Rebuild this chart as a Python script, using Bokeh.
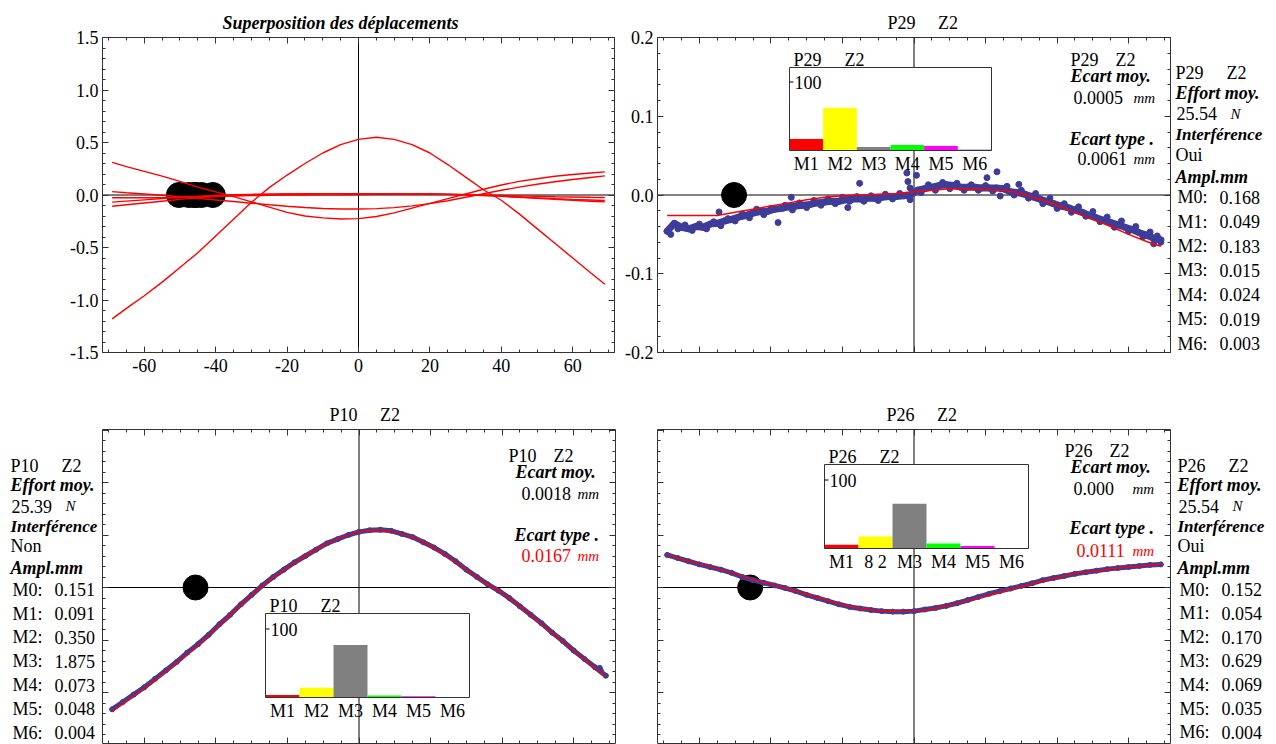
from bokeh.plotting import figure
from bokeh.models import (Range1d, LinearAxis, FixedTicker, NumeralTickFormatter,
                          CustomJSTickFormatter, Span, Label, ColumnDataSource)
from bokeh.layouts import column, row
from bokeh.embed import file_html
from bokeh.resources import INLINE
from bokeh.core.properties import value

FONT = "Liberation Serif"
BLUE = "#3d3d99"
RED = "#ff0000"
FRAME = "#333333"
NB = "\u00a0"

# ---------------- data ----------------
fit_x = [-69, -65, -60, -55, -50, -45, -40, -35, -30, -25, -20, -15, -10, -5, 0,
         5, 10, 15, 20, 25, 30, 35, 40, 45, 50, 55, 60, 65, 69]
p10_fit = [-1.18, -1.08, -0.96, -0.83, -0.69, -0.55, -0.39, -0.23, -0.07, 0.07, 0.19, 0.30,
           0.40, 0.48, 0.53, 0.55, 0.53, 0.48, 0.40, 0.29, 0.17, 0.05, -0.05, -0.18, -0.32,
           -0.46, -0.60, -0.74, -0.85]
p26_fit = [0.31, 0.27, 0.225, 0.18, 0.13, 0.075, 0.03, -0.015, -0.065, -0.115, -0.165, -0.20,
           -0.218, -0.228, -0.225, -0.205, -0.17, -0.125, -0.08, -0.035, 0.01, 0.055, 0.095,
           0.13, 0.155, 0.178, 0.195, 0.21, 0.22]
p29_fit = [-0.026, -0.026, -0.026, -0.026, -0.022, -0.018, -0.014, -0.010, -0.006, -0.003,
           -0.001, 0.000, 0.001, 0.002, 0.004, 0.006, 0.008, 0.008, 0.007, 0.006, 0.002,
           -0.005, -0.013, -0.022, -0.031, -0.040, -0.050, -0.059, -0.065]
c4_fit = [0.032, 0.022, 0.010, -0.003, -0.017, -0.032, -0.047, -0.062, -0.078, -0.093, -0.107,
          -0.119, -0.128, -0.133, -0.134, -0.130, -0.120, -0.104, -0.082, -0.055, -0.022,
          0.012, 0.045, 0.075, 0.102, 0.126, 0.148, 0.167, 0.182]
c5_fit = [-0.068, -0.058, -0.046, -0.034, -0.022, -0.012, -0.004, 0.002, 0.006, 0.008, 0.010,
          0.011, 0.012, 0.012, 0.012, 0.012, 0.011, 0.010, 0.009, 0.007, 0.004, 0.000, -0.004,
          -0.008, -0.012, -0.016, -0.019, -0.022, -0.024]
c6_fit = [-0.107, -0.093, -0.076, -0.059, -0.042, -0.027, -0.013, -0.003, 0.004, 0.008, 0.010,
          0.012, 0.013, 0.013, 0.013, 0.013, 0.012, 0.011, 0.009, 0.006, 0.002, -0.004, -0.011,
          -0.019, -0.027, -0.035, -0.042, -0.048, -0.053]

# zero markers (black dots) of the superposed curves
dots_all_x = [-50.3, -45.7, -45.8, -40.8, -44.0, -47.5]
dot_p29 = -50.3
dot_p10 = -45.7
dot_p26 = -45.8

# measured points
meas_x = [-69, -66, -63, -60, -57, -54, -51, -48, -45, -42, -39, -36, -33, -30, -27, -24, -21,
          -18, -15, -12, -9, -6, -3, 0, 3, 6, 9, 12, 15, 18, 21, 24, 27, 30, 33, 36, 39, 42, 45,
          48, 51, 54, 57, 60, 63, 66, 69]
p10_meas = [-1.16, -1.09, -1.02, -0.95, -0.87, -0.79, -0.71, -0.62, -0.54, -0.45, -0.35, -0.26,
            -0.16, -0.07, 0.02, 0.10, 0.17, 0.24, 0.30, 0.36, 0.42, 0.46, 0.50, 0.53, 0.545,
            0.55, 0.54, 0.51, 0.48, 0.43, 0.38, 0.32, 0.25, 0.17, 0.10, 0.03, -0.03, -0.10,
            -0.18, -0.26, -0.34, -0.43, -0.51, -0.60, -0.68, -0.76, -0.84]
p10_extra_x = [67.3, 67.6]
p10_extra_y = [-0.765, -0.79]
p26_meas = [0.31, 0.28, 0.25, 0.22, 0.195, 0.17, 0.14, 0.10, 0.07, 0.045, 0.02, -0.005, -0.035,
            -0.07, -0.10, -0.13, -0.16, -0.185, -0.20, -0.215, -0.225, -0.23, -0.23, -0.225,
            -0.21, -0.195, -0.175, -0.15, -0.12, -0.09, -0.06, -0.035, -0.01, 0.015, 0.04,
            0.07, 0.09, 0.11, 0.13, 0.145, 0.16, 0.175, 0.185, 0.195, 0.205, 0.215, 0.22]
p29_mx = [-69, -67, -65, -63, -61, -59, -57, -55, -53, -51, -49, -47, -45, -43, -41, -39, -37,
          -35, -33, -31, -29, -27, -25, -23, -21, -19, -17, -15, -13, -11, -9, -7, -5, -3, -1,
          1, 3, 5, 7, 9, 11, 13, 15, 17, 19, 21, 23, 25, 27, 29, 31, 33, 35, 37, 39, 41, 43,
          45, 47, 49, 51, 53, 55, 57, 59, 61, 63, 65, 67, 69]
p29_my = [-0.046, -0.036, -0.041, -0.043, -0.040, -0.041, -0.037, -0.036, -0.033, -0.031,
          -0.028, -0.026, -0.023, -0.021, -0.021, -0.018, -0.017, -0.015, -0.014, -0.013,
          -0.012, -0.010, -0.009, -0.008, -0.008, -0.006, -0.005, -0.005, -0.004, -0.004,
          -0.003, -0.002, -0.002, -0.001, 0.000, 0.006, 0.008, 0.010, 0.012, 0.013,
          0.012, 0.010, 0.010, 0.010, 0.009, 0.009, 0.009, 0.008, 0.004, 0.003,
          0.001, -0.002, -0.005, -0.008, -0.011, -0.014, -0.016, -0.019, -0.022, -0.026,
          -0.029, -0.032, -0.035, -0.038, -0.041, -0.044, -0.048, -0.051, -0.055, -0.057]
p29_nx = [-68, -66, -64, -62, -60, -58, -56, -54.5, -54, -52, -50, -48, -46, -44, -42, -40,
          -38, -36, -34.3, -34, -32, -30, -28, -26, -24, -22, -20, -18.5, -18, -16, -15.2, -14,
          -12, -10, -8, -6, -4, -2, -1.7, -1.1, -1.1, 0.7, 2, 4, 6, 8, 10, 12, 14, 16, 18, 20,
          20.4, 22, 23.2, 24.1, 26, 28, 29.3, 30, 32, 34, 36, 38, 40, 42, 44, 46, 48, 50, 52,
          54, 56, 58, 60, 62, 64, 66, 67, 68, 69]
p29_ny = [-0.050, -0.043, -0.038, -0.045, -0.037, -0.043, -0.034, -0.0215, -0.039, -0.030,
          -0.033, -0.024, -0.029, -0.018, -0.025, -0.017, -0.035, -0.013, -0.003, -0.019,
          -0.010, -0.016, -0.007, -0.013, -0.005, -0.011, -0.003, -0.016, -0.008, -0.002,
          0.0148, -0.008, -0.001, -0.007, 0.001, -0.005, 0.002, 0.028, 0.017, 0.009,
          -0.006, 0.025, 0.003, 0.013, 0.006, 0.016, 0.008, 0.015, 0.006, 0.013,
          0.006, 0.012, 0.022, 0.005, 0.0295, -0.0013, 0.011, 0.000, 0.0135, 0.006,
          -0.004, 0.002, -0.011, -0.004, -0.017, -0.011, -0.022, -0.015, -0.027, -0.021,
          -0.034, -0.028, -0.041, -0.033, -0.046, -0.040, -0.053, -0.047, -0.062, -0.052,
          -0.060]

# amplitudes M0..M6 (mm)
mode_names = ["M0", "M1", "M2", "M3", "M4", "M5", "M6"]
p29_ampl = [0.168, 0.049, 0.183, 0.015, 0.024, 0.019, 0.003]
p10_ampl = [0.151, 0.091, 0.350, 1.875, 0.073, 0.048, 0.004]
p26_ampl = [0.152, 0.054, 0.170, 0.629, 0.069, 0.035, 0.004]
bar_labels_p29 = ["M1", "M2", "M3", "M4", "M5", "M6"]
bar_labels_p10 = ["M1", "M2", "M3", "M4", "M5", "M6"]
bar_labels_p26 = ["M1", "8 2", "M3", "M4", "M5", "M6"]
bar_colors = ["#ff0000", "#ffff00", "#808080", "#00ff00", "#ff00ff", "#0000ff"]

effort = {"P29": "25.54", "P10": "25.39", "P26": "25.54"}
interf = {"P29": "Oui", "P10": "Non", "P26": "Oui"}
ecart_moy = {"P29": "0.0005", "P10": "0.0018", "P26": "0.000"}
ecart_type = {"P29": "0.0061", "P10": "0.0167", "P26": "0.0111"}

x_ticks = [-60, -40, -20, 0, 20, 40, 60]
x_minor = [v for v in range(-70, 71, 5) if v not in x_ticks]
big_ticks = [-1.5, -1.0, -0.5, 0.0, 0.5, 1.0, 1.5]
big_minor = [round(-1.5 + 0.1 * i, 2) for i in range(31)]
small_ticks = [-0.2, -0.1, 0.0, 0.1, 0.2]
small_minor = [round(-0.2 + 0.02 * i, 3) for i in range(21)]

# ---------------- layout (page pixels) ----------------
TL = dict(fx0=102, fx1=614, fy0=37, fy1=352, gx0=0, gx1=616, gy0=0, gy1=390)
TR = dict(fx0=657, fx1=1170, fy0=37, fy1=352, gx0=616, gx1=1172, gy0=0, gy1=390)
TRI = dict(fx0=1172, fy1=352)                # right info block (frame aligned with row)
BL = dict(fx0=102, fx1=615, fy0=429, fy1=743, gx0=101, gx1=616, gy0=390, gy1=744)
BR = dict(fx0=657, fx1=1170, fy0=429, fy1=743, gx0=616, gx1=1172, gy0=390, gy1=744)
BLI = dict(fx0=0, fy1=743)
BRI = dict(fx0=1172, fy1=743)
XR = (-71.7, 71.7)


def blank_fig(w, h):
    p = figure(width=w, height=h, min_border=0, x_axis_type=None, y_axis_type=None,
               x_range=Range1d(0, 1), y_range=Range1d(0, 1),
               output_backend="svg", toolbar_location=None)
    p.outline_line_color = None
    p.xgrid.visible = False
    p.ygrid.visible = False
    return p


def make_fig(fr, yr, title, title_x, title_style="normal"):
    p = figure(frame_width=fr["fx1"] - fr["fx0"], frame_height=fr["fy1"] - fr["fy0"],
               min_border_left=fr["fx0"] - fr["gx0"], min_border_right=fr["gx1"] - fr["fx1"],
               min_border_top=fr["fy0"] - fr["gy0"], min_border_bottom=fr["gy1"] - fr["fy1"],
               x_range=Range1d(*XR), y_range=Range1d(*yr),
               output_backend="svg", toolbar_location=None,
               background_fill_color="white", border_fill_color="white")
    p.xgrid.visible = False
    p.ygrid.visible = False
    p.outline_line_color = FRAME
    p.outline_line_width = 1
    p.title.text = title
    p.title.align = "left"
    p.title.offset = title_x - fr["fx0"]
    p.title.standoff = 10
    p.title.text_line_height = 1.0
    p.title.text_font = FONT
    p.title.text_font_size = "18px"
    p.title.text_font_style = title_style
    p.title.text_color = "black"
    return p


def style_axes(p, yt, ym, xlab=False, ylab=False):
    p.add_layout(LinearAxis(), "above")
    p.add_layout(LinearAxis(), "right")
    for ax in p.below + p.above:
        ax.ticker = FixedTicker(ticks=x_ticks, minor_ticks=x_minor)
    for ax in p.left + p.right:
        ax.ticker = FixedTicker(ticks=yt, minor_ticks=ym)
    for ax in p.below + p.above + p.left + p.right:
        ax.axis_line_color = None
        ax.major_tick_in = 6
        ax.major_tick_out = 0
        ax.minor_tick_in = 3
        ax.minor_tick_out = 0
        ax.major_tick_line_color = FRAME
        ax.minor_tick_line_color = FRAME
        ax.major_label_text_font = FONT
        ax.major_label_text_color = "black"
        ax.formatter = CustomJSTickFormatter(code="return ''")
        ax.major_label_text_font_size = "0px"
        ax.major_label_standoff = 0
    if xlab:
        ax = p.below[0]
        ax.formatter = NumeralTickFormatter(format="0")
        ax.major_label_text_font_size = "18px"
        ax.major_label_standoff = 6
    if ylab:
        ax = p.left[0]
        ax.formatter = NumeralTickFormatter(format="0.0")
        ax.major_label_text_font_size = "18px"
        ax.major_label_standoff = 4


def txt(p, fr, px, py, s, size=18, style="normal", color="black", align="left"):
    p.add_layout(Label(x=px - fr["fx0"], y=fr["fy1"] - py, x_units="screen", y_units="screen",
                       text=s, text_font=FONT, text_font_size=f"{size}px",
                       text_font_style=style, text_color=color, text_align=align,
                       text_baseline="middle"))


def axes_lines(p):
    p.add_layout(Span(location=0, dimension="width", line_color="black", line_width=1,
                      level="underlay"))
    p.add_layout(Span(location=0, dimension="height", line_color="black", line_width=1,
                      level="underlay"))


def inset(p, fr, box, ampl, labels, name):
    bx0, bx1, by0, by1 = box
    sx = (bx1 - bx0) / 6.0
    sy = 0.685
    p.extra_x_ranges = {"ix": Range1d(-(bx0 - fr["fx0"]) / sx, 6 + (fr["fx1"] - bx1) / sx)}
    p.extra_y_ranges = {"iy": Range1d(-(fr["fy1"] - by1) / sy, (by1 - fr["fy0"]) / sy)}
    kw = dict(x_range_name="ix", y_range_name="iy")
    top = (by1 - by0) / sy
    total = sum(ampl[1:])
    shares = [100.0 * a / total for a in ampl[1:]]
    centers = [0.5, 1.5, 2.5, 3.5, 4.5, 5.5]
    p.quad(left=0, right=6, bottom=0, top=top, fill_color="white", line_color=None, **kw)
    src = ColumnDataSource(dict(x=centers, top=shares, color=bar_colors))
    p.vbar(x="x", top="top", bottom=0, width=1, fill_color="color", line_color=None,
           source=src, **kw)
    p.quad(left=0, right=6, bottom=0, top=top, fill_color=None, line_color=FRAME,
           line_width=1, **kw)
    p.segment(x0=[0], y0=[100], x1=[4 / sx], y1=[100], line_color="black", line_width=1, **kw)
    p.text(x=[5 / sx], y=[100], text=["100"], text_align="left", text_baseline="alphabetic",
           text_font=value(FONT), text_font_size=value("18px"), text_color="black", **kw)
    p.text(x=centers, y=[-13 / sy] * 6, text=labels, text_align="center",
           text_baseline="middle", text_font=value(FONT), text_font_size=value("18px"),
           text_color="black", **kw)
    txt(p, fr, bx0 + 4, by0 - 8, name)
    txt(p, fr, bx0 + 55, by0 - 8, "Z2")


def info_inside(p, fr, name, x_name, y_name, x_lbl, xs, ys, red):
    col = RED if red else "black"
    txt(p, fr, x_name, y_name, name)
    txt(p, fr, x_name + 45, y_name, "Z2")
    txt(p, fr, x_lbl, ys[0], "Ecart moy.", style="bold italic")
    txt(p, fr, xs[0], ys[1], ecart_moy[name])
    txt(p, fr, xs[1], ys[1], "mm", size=15, style="italic")
    txt(p, fr, x_lbl - 1, ys[2], "Ecart type .", style="bold italic")
    txt(p, fr, xs[2], ys[3], ecart_type[name], color=col)
    txt(p, fr, xs[1], ys[3], "mm", size=15, style="italic", color=col)


def info_side(p, fr, name, x0, ys, ampl):
    txt(p, fr, x0, ys[0], name)
    txt(p, fr, x0 + 51, ys[0], "Z2")
    txt(p, fr, x0, ys[1], "Effort moy.", style="bold italic")
    txt(p, fr, x0 + 1, ys[2], effort[name])
    txt(p, fr, x0 + 55, ys[2], "N", size=15, style="italic")
    txt(p, fr, x0, ys[3], "Interférence", size=17, style="bold italic")
    txt(p, fr, x0, ys[4], interf[name])
    txt(p, fr, x0, ys[5], "Ampl.mm", style="bold italic")
    for i, (m, a) in enumerate(zip(mode_names, ampl)):
        y = ys[6] + i * ys[7]
        txt(p, fr, x0 + 2, y, m + ":")
        txt(p, fr, x0 + 44, y, f"{a:.3f}")


# ---------------- top-left: superposition ----------------
p_tl = make_fig(TL, (-1.5, 1.5), "Superposition des déplacements", 222, "bold italic")
style_axes(p_tl, big_ticks, big_minor, xlab=True, ylab=True)
axes_lines(p_tl)
p_tl.scatter(dots_all_x, [0] * len(dots_all_x), size=25, color="black")
for ys in (p10_fit, p26_fit, p29_fit, c4_fit, c5_fit, c6_fit):
    p_tl.line(fit_x, ys, color=RED, line_width=1.4)

# ---------------- top-right: P29 ----------------
p_tr = make_fig(TR, (-0.2, 0.2), "P29" + NB * 5 + "Z2", 887)
style_axes(p_tr, small_ticks, small_minor, ylab=True)
axes_lines(p_tr)
p_tr.scatter([dot_p29], [0], size=25, color="black")
p_tr.line(p29_mx, p29_my, color=BLUE, line_width=7, line_join="round", line_cap="round")
p_tr.scatter(p29_mx, p29_my, size=6, color=BLUE)
p_tr.scatter(p29_nx, p29_ny, size=6, color=BLUE)
p_tr.line(fit_x, p29_fit, color=RED, line_width=1.5)
inset(p_tr, TR, (789, 991, 67, 150), p29_ampl, bar_labels_p29, "P29")
info_inside(p_tr, TR, "P29", 1070, 59, 1070, (1073, 1133, 1077), (75, 97, 138, 158), False)

i_tr = blank_fig(104, 390)
info_side(i_tr, TRI, "P29", 1175, (72.7, 92.3, 113, 134, 154, 176, 196.7, 24.4), p29_ampl)

# ---------------- bottom-left: P10 ----------------
ybot = (-(743 - 587) / 105.0, (587 - 429) / 105.0)
p_bl = make_fig(BL, ybot, "P10" + NB * 5 + "Z2", 329)
style_axes(p_bl, big_ticks, big_minor)
axes_lines(p_bl)
p_bl.scatter([dot_p10], [0], size=25, color="black")
p_bl.line(meas_x, p10_meas, color=BLUE, line_width=5, line_join="round", line_cap="round")
p_bl.scatter(meas_x, p10_meas, size=5, color=BLUE)
p_bl.scatter(p10_extra_x, p10_extra_y, size=5, color=BLUE)
p_bl.line(fit_x, p10_fit, color=RED, line_width=1.5)
inset(p_bl, BL, (265, 469, 613, 697), p10_ampl, bar_labels_p10, "P10")
info_inside(p_bl, BL, "P10", 508, 455, 515, (521, 577, 521), (471, 493, 534, 555), True)

i_bl = blank_fig(101, 354)
info_side(i_bl, BLI, "P10", 10, (465, 484.5, 505.5, 526, 545, 567, 589.3, 23.8), p10_ampl)

# ---------------- bottom-right: P26 ----------------
p_br = make_fig(BR, ybot, "P26" + NB * 5 + "Z2", 886)
style_axes(p_br, big_ticks, big_minor)
axes_lines(p_br)
p_br.scatter([dot_p26], [0], size=25, color="black")
p_br.line(meas_x, p26_meas, color=BLUE, line_width=5, line_join="round", line_cap="round")
p_br.scatter(meas_x, p26_meas, size=5, color=BLUE)
p_br.line(fit_x, p26_fit, color=RED, line_width=1.5)
inset(p_br, BR, (824, 1028, 464, 548), p26_ampl, bar_labels_p26, "P26")
info_inside(p_br, BR, "P26", 1064, 450, 1070, (1073, 1132, 1076), (466, 488, 527, 550), True)

i_br = blank_fig(104, 354)
info_side(i_br, BRI, "P26", 1177, (465, 484.5, 505.5, 526, 545, 567, 589, 23.8), p26_ampl)

layout = column(row(p_tl, p_tr, i_tr), row(i_bl, p_bl, p_br, i_br))
open("out.html", "w").write(file_html(layout, INLINE, "Superposition des déplacements"))
